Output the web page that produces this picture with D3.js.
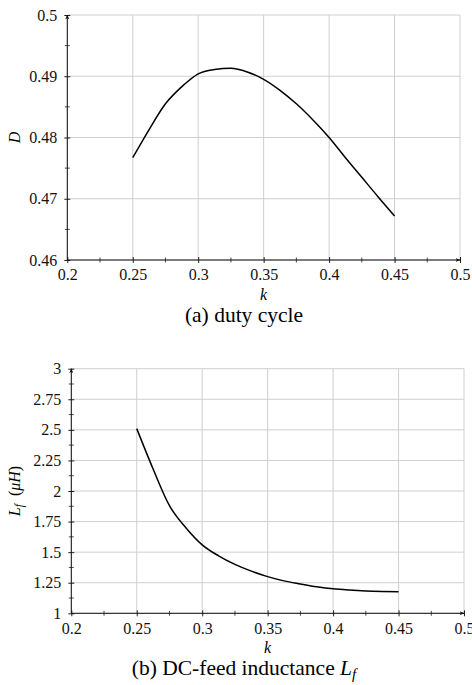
<!DOCTYPE html>
<html>
<head>
  <meta charset="utf-8">
  <title>Duty cycle and DC-feed inductance vs k</title>
  <script src="https://cdn.jsdelivr.net/npm/d3@7"></script>
  <style>
    body { margin: 0; background: #fff; }
  </style>
</head>
<body>
  <div id="chart"></div>

  <script>
    // values
    const kValues = [0.25, 0.2625, 0.275, 0.2875, 0.3, 0.3125, 0.325, 0.3375, 0.35,
                     0.3625, 0.375, 0.3875, 0.4, 0.4125, 0.425, 0.4375, 0.45]
    const dutyValues = [0.4767, 0.4813, 0.4855, 0.4883, 0.4904, 0.4911, 0.4913, 0.4907, 0.4895,
                        0.4877, 0.4855, 0.4829, 0.4800, 0.4767, 0.4735, 0.4703, 0.4672]
    const lfValues = [2.51, 2.18, 1.88, 1.70, 1.56, 1.47, 1.40, 1.345, 1.30,
                      1.265, 1.24, 1.217, 1.20, 1.19, 1.183, 1.179, 1.177]

    const xTicks = [0.2, 0.25, 0.3, 0.35, 0.4, 0.45, 0.5]
    const xMinorTicks = [0.225, 0.275, 0.325, 0.375, 0.425, 0.475]
    const dutyTicks = [0.46, 0.47, 0.48, 0.49, 0.5]
    const dutyMinorTicks = [0.465, 0.475, 0.485, 0.495]
    const lfTicks = [1, 1.25, 1.5, 1.75, 2, 2.25, 2.5, 2.75, 3]
    const lfMinorTicks = [1.125, 1.375, 1.625, 1.875, 2.125, 2.375, 2.625, 2.875]

    const serif = "'Liberation Serif', 'Times New Roman', serif"

    const width = 472
    const height = 685

    const svg = d3.select("#chart")
      .append("svg")
      .attr("width", width)
      .attr("height", height)

    svg.append("defs").append("marker")
      .attr("id", "arrow")
      .attr("viewBox", "0 0 10 10")
      .attr("refX", 9)
      .attr("refY", 5)
      .attr("markerWidth", 5)
      .attr("markerHeight", 5)
      .attr("orient", "auto")
      .append("path")
      .attr("d", "M0,1 L10,5 L0,9 L3,5 Z")
      .attr("fill", "#111")

    function drawPanel(p) {
      const g = svg.append("g")

      const x = d3.scaleLinear().domain([0.2, 0.5]).range([p.left, p.right])
      const y = d3.scaleLinear().domain(p.yDomain).range([p.bottom, p.top])

      // grid
      g.append("g")
        .selectAll("line")
        .data(xTicks)
        .enter()
        .append("line")
        .attr("x1", d => x(d)).attr("x2", d => x(d))
        .attr("y1", p.bottom).attr("y2", p.top)
        .style("stroke", "#cfcfcf")
        .style("stroke-width", 1)

      g.append("g")
        .selectAll("line")
        .data(p.yTicks)
        .enter()
        .append("line")
        .attr("x1", p.left).attr("x2", p.right)
        .attr("y1", d => y(d)).attr("y2", d => y(d))
        .style("stroke", "#cfcfcf")
        .style("stroke-width", 1)

      // axes, restyled to look like pgfplots
      const xAxis = g.append("g")
        .attr("transform", `translate(0,${p.bottom})`)
        .call(d3.axisBottom(x).tickValues(xTicks).tickSize(3).tickPadding(6)
          .tickFormat(d3.format("~g")))
      const yAxis = g.append("g")
        .attr("transform", `translate(${p.left},0)`)
        .call(d3.axisLeft(y).tickValues(p.yTicks).tickSize(3).tickPadding(7)
          .tickFormat(d3.format("~g")))

      ;[xAxis, yAxis].forEach(ax => {
        ax.attr("font-family", null).attr("font-size", null)
        ax.select(".domain").remove()
        ax.selectAll("line").attr("stroke", "#222")
        ax.selectAll("text")
          .style("font-family", serif)
          .style("font-size", "16px")
          .style("fill", "#111")
      })
      xAxis.selectAll(".tick line").attr("y1", -3)
      yAxis.selectAll(".tick line").attr("x1", 3)

      // minor ticks
      g.append("g")
        .selectAll("line")
        .data(xMinorTicks)
        .enter()
        .append("line")
        .attr("x1", d => x(d)).attr("x2", d => x(d))
        .attr("y1", p.bottom - 2.5).attr("y2", p.bottom + 2.5)
        .style("stroke", "#222")
        .style("stroke-width", 0.8)

      g.append("g")
        .selectAll("line")
        .data(p.yMinorTicks)
        .enter()
        .append("line")
        .attr("x1", p.left - 2.5).attr("x2", p.left + 2.5)
        .attr("y1", d => y(d)).attr("y2", d => y(d))
        .style("stroke", "#222")
        .style("stroke-width", 0.8)

      // axis lines with arrows
      g.append("line")
        .attr("x1", p.left).attr("x2", p.right)
        .attr("y1", p.bottom).attr("y2", p.bottom)
        .style("stroke", "#111")
        .style("stroke-width", 1)
        .attr("marker-end", "url(#arrow)")
      g.append("line")
        .attr("x1", p.left).attr("x2", p.left)
        .attr("y1", p.bottom).attr("y2", p.top)
        .style("stroke", "#111")
        .style("stroke-width", 1)
        .attr("marker-end", "url(#arrow)")

      // curve
      const line = d3.line()
        .x((d, i) => x(kValues[i]))
        .y(d => y(d))
        .curve(d3.curveMonotoneX)
      g.append("path")
        .datum(p.values)
        .attr("d", line)
        .attr("fill", "none")
        .style("stroke", "#000")
        .style("stroke-width", 1.5)
        .style("stroke-linejoin", "round")

      // x label
      g.append("text")
        .attr("x", (p.left + p.right) / 2)
        .attr("y", p.bottom + 40)
        .attr("text-anchor", "middle")
        .style("font-family", serif)
        .style("font-size", "16px")
        .style("font-style", "italic")
        .text("k")

      // y label
      const yl = g.append("text")
        .attr("transform", `translate(20,${(p.top + p.bottom) / 2}) rotate(-90)`)
        .attr("text-anchor", "middle")
        .style("font-family", serif)
        .style("font-size", "16px")
      p.yLabel(yl)

      // caption
      const cap = g.append("text")
        .attr("x", 244)
        .attr("y", p.bottom + 62)
        .attr("text-anchor", "middle")
        .style("font-family", serif)
        .style("font-size", "21.5px")
      p.caption(cap)
    }

    drawPanel({
      left: 67.3, right: 460, top: 15, bottom: 260,
      yDomain: [0.46, 0.5],
      yTicks: dutyTicks,
      yMinorTicks: dutyMinorTicks,
      values: dutyValues,
      yLabel: t => t.append("tspan").style("font-style", "italic").text("D"),
      caption: t => t.text("(a) duty cycle")
    })

    drawPanel({
      left: 71.3, right: 464, top: 368.7, bottom: 613.3,
      yDomain: [1, 3],
      yTicks: lfTicks,
      yMinorTicks: lfMinorTicks,
      values: lfValues,
      yLabel: t => {
        t.append("tspan").style("font-style", "italic").text("L")
        t.append("tspan").style("font-style", "italic").style("font-size", "11.5px")
          .attr("dy", 3).text("f")
        t.append("tspan").attr("dy", -3).text("\u2002(")
        t.append("tspan").style("font-style", "italic").text("\u03bcH")
        t.append("tspan").text(")")
      },
      caption: t => {
        t.append("tspan").text("(b) DC-feed inductance ")
        t.append("tspan").style("font-style", "italic").text("L")
        t.append("tspan").style("font-style", "italic").style("font-size", "15px")
          .attr("dy", 4).text("f")
      }
    })
  </script>
</body>
</html>
